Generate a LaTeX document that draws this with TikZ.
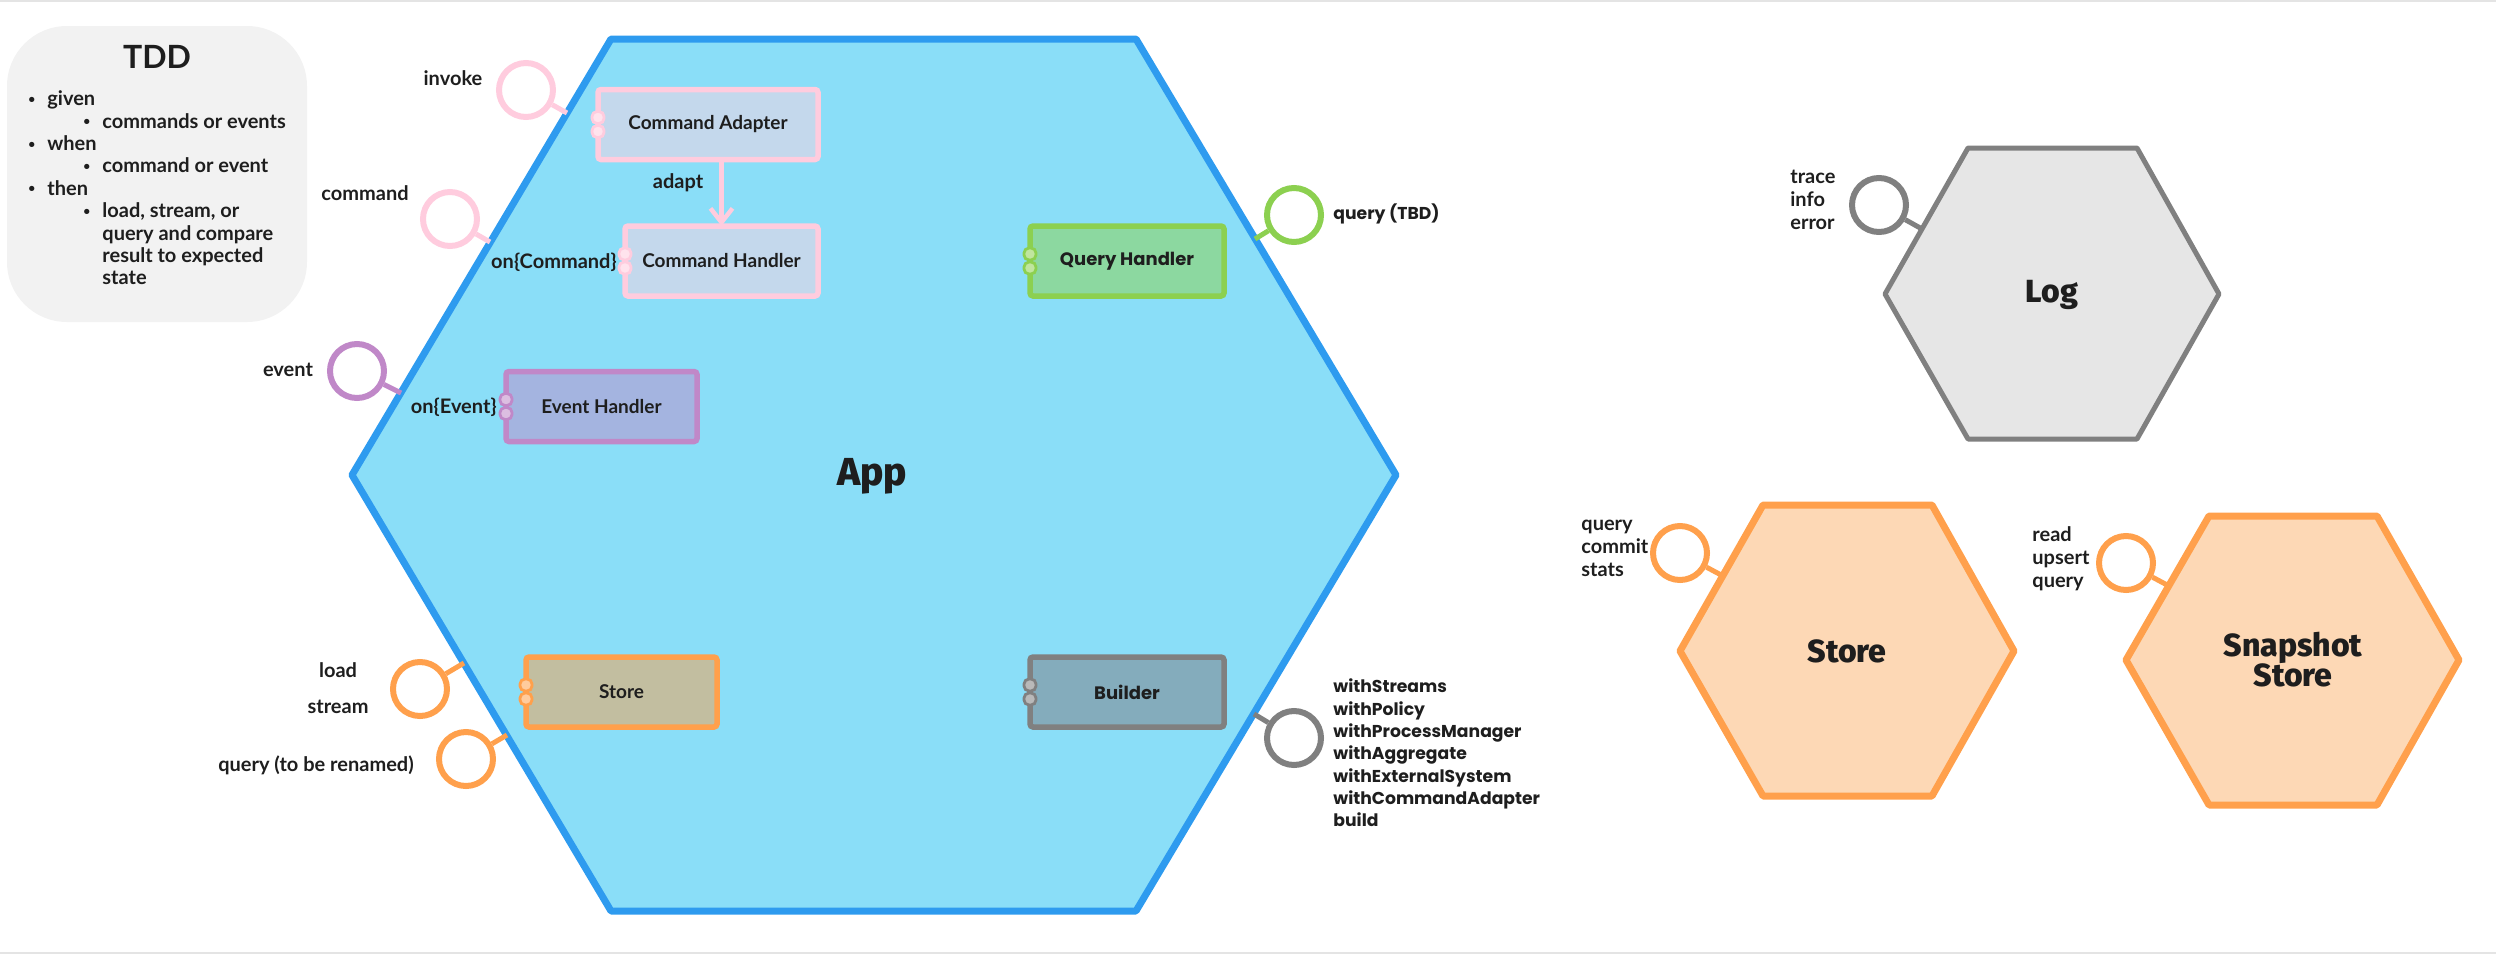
\documentclass[tikz,border=0pt]{standalone}
\usepackage{fontspec}
\setmainfont{Lato}
\newfontfamily\geofont{Poppins}
\IfFontExistsTF{Fira Sans Heavy}{\newfontfamily\heavyfont{Fira Sans Heavy}}{%
  \IfFontExistsTF{Fira Sans ExtraBold}{\newfontfamily\heavyfont{Fira Sans ExtraBold}}{%
    \IfFontExistsTF{Poppins ExtraBold}{\newfontfamily\heavyfont{Poppins ExtraBold}}{%
      \newcommand{\heavyfont}{\bfseries}}}}
\usetikzlibrary{arrows.meta}

\definecolor{ink}{HTML}{1E1E1E}
\definecolor{appfill}{HTML}{8ADEF8}
\definecolor{appline}{HTML}{2E9BEF}
\definecolor{pinkline}{HTML}{FFCCDE}
\definecolor{cafill}{HTML}{C4D8EC}
\definecolor{purpleline}{HTML}{C088C8}
\definecolor{ehfill}{HTML}{A4B4E0}
\definecolor{greenline}{HTML}{8CD050}
\definecolor{qhfill}{HTML}{8CD8A0}
\definecolor{grayline}{HTML}{808080}
\definecolor{bfill}{HTML}{84ACBC}
\definecolor{orangeline}{HTML}{FFA04C}
\definecolor{sfill}{HTML}{C2BEA0}
\definecolor{peach}{HTML}{FDD8B5}
\definecolor{logfill}{HTML}{E6E6E6}
\definecolor{tddfill}{HTML}{F2F2F2}
\definecolor{framegray}{HTML}{E4E4E4}

\newcommand{\tddbullet}{\raisebox{1.2pt}{\fontsize{6}{6}\selectfont\textbullet}}
\newcommand{\tddone}[1]{\makebox[9.5pt][l]{\tddbullet}#1}
\newcommand{\tddtwo}[1]{\hspace*{9.5pt}\makebox[27.5pt][l]{\hspace{18pt}\tddbullet}#1}
\newcommand{\tddcont}[1]{\hspace*{37pt}#1}

\begin{document}
\begin{tikzpicture}[x=0.5pt, y=-0.5pt,
    every node/.style={text=ink},
    lbl/.style={font=\fontsize{10}{11.5}\selectfont\bfseries, inner sep=0pt},
    geolabel/.style={font=\geofont\fontsize{8.6}{11.15}\selectfont\bfseries, inner sep=0pt, align=left},
    hextitle/.style={font=\heavyfont\fontsize{16}{15}\selectfont, inner sep=0pt, align=center},
    hexagon/.style={line width=3.5pt, line join=round},
    comp/.style={draw=#1, line width=2.75pt, rounded corners=1.5pt, minimum height=35pt,
      inner sep=0pt, outer sep=0pt, font=\fontsize{9.5}{11}\selectfont\bfseries},
    port/.style={draw=#1, fill=#1!55!white, line width=1.4pt, rounded corners=2.5pt,
      minimum width=6pt, minimum height=6pt, inner sep=0pt},
    lolly/.style={circle, draw=#1, fill=white, line width=3pt, minimum size=27pt, inner sep=0pt},
    stub/.style={draw=#1, line width=2.5pt},
  ]
  \useasboundingbox (0,0) rectangle (2496,954);
  \draw[framegray, line width=1pt] (0,1) -- (2496,1);
  \draw[framegray, line width=1pt] (0,953) -- (2496,953);

  % TDD
  \node[fill=tddfill, rounded corners=30pt, minimum width=150pt, minimum height=148pt, inner sep=0pt] (tdd) at (157,174) {};
  \node[font=\fontsize{16}{16}\selectfont\bfseries, inner sep=0pt] (tddtitle) at (157,57) {TDD};
  \node[font=\fontsize{10}{11.2}\selectfont\bfseries, inner sep=0pt, align=left, anchor=west] (tddlist) at (28,188)
    {\tddone{given}\\ \tddtwo{commands or events}\\ \tddone{when}\\ \tddtwo{command or event}\\
     \tddone{then}\\ \tddtwo{load, stream, or}\\ \tddcont{query and compare}\\ \tddcont{result to expected}\\ \tddcont{state}};

  % App
  \draw[hexagon, draw=appline, fill=appfill] (611,39) -- (1136,39) -- (1396,475) -- (1136,911) -- (611,911) -- (352,475) -- cycle;
  \node[hextitle, font=\heavyfont\fontsize{19.5}{19}\selectfont] (app) at (872,476) {App};

  % Command Adapter
  \node[comp=pinkline, fill=cafill, minimum width=110pt] (adapter) at (708,124.5) {Command Adapter};
  \node[port=pinkline] (adapterP1) at ([yshift=3.5pt]adapter.west) {};
  \node[port=pinkline] (adapterP2) at ([yshift=-3.5pt]adapter.west) {};

  % Command Handler
  \node[comp=pinkline, fill=cafill, minimum width=96.5pt] (handler) at (721.5,261) {Command Handler};
  \node[port=pinkline] (handlerP1) at ([yshift=3.5pt]handler.west) {};
  \node[port=pinkline] (handlerP2) at ([yshift=-3.5pt]handler.west) {};
  \node[lbl, anchor=east] (onCommand) at (617,262) {on\{Command\}};

  % Event Handler
  \node[comp=purpleline, fill=ehfill, minimum width=95.5pt] (event) at (601.5,406.5) {Event Handler};
  \node[port=purpleline] (eventP1) at ([yshift=3.5pt]event.west) {};
  \node[port=purpleline] (eventP2) at ([yshift=-3.5pt]event.west) {};
  \node[lbl, anchor=east] (onEvent) at (497,407) {on\{Event\}};

  % Query Handler
  \node[comp=greenline, fill=qhfill, minimum width=97pt, font=\geofont\fontsize{9}{11}\selectfont\bfseries] (query) at (1127,261) {Query Handler};
  \node[port=greenline] (queryP1) at ([yshift=3.5pt]query.west) {};
  \node[port=greenline] (queryP2) at ([yshift=-3.5pt]query.west) {};

  % Store
  \node[comp=orangeline, fill=sfill, minimum width=95.5pt] (store) at (621.5,692) {Store};
  \node[port=orangeline] (storeP1) at ([yshift=3.5pt]store.west) {};
  \node[port=orangeline] (storeP2) at ([yshift=-3.5pt]store.west) {};

  % Builder
  \node[comp=grayline, fill=bfill, minimum width=97pt, font=\geofont\fontsize{9}{11}\selectfont\bfseries] (builder) at (1127,692) {Builder};
  \node[port=grayline] (builderP1) at ([yshift=3.5pt]builder.west) {};
  \node[port=grayline] (builderP2) at ([yshift=-3.5pt]builder.west) {};

  % App interfaces
  \node[lolly=pinkline] (invoke) at (526,90) {};
  \coordinate (invokeE) at (567,113);
  \node[lbl] (invokeL) at (453,78) {invoke};
  \node[lolly=pinkline] (command) at (450,219) {};
  \coordinate (commandE) at (490,242);
  \node[lbl] (commandL) at (365,193) {command};
  \node[lolly=purpleline] (onevent) at (357,371) {};
  \coordinate (oneventE) at (401,393);
  \node[lbl] (eventL) at (288,370) {event};
  \node[lolly=orangeline] (load) at (420,689) {};
  \coordinate (loadE) at (464,663);
  \node[lbl] (loadL) at (338,670) {load};
  \node[lbl] (streamL) at (338,707) {stream};
  \node[lolly=orangeline] (storequery) at (466,759) {};
  \coordinate (storequeryE) at (507,735);
  \node[lbl] (storequeryL) at (316,765) {query (to be renamed)};
  \node[lolly=greenline] (tbd) at (1294,215) {};
  \coordinate (tbdE) at (1255,239);
  \node[geolabel, anchor=west] (tbdL) at (1333,214) {query (TBD)};
  \node[lolly=grayline] (build) at (1294,738) {};
  \coordinate (buildE) at (1254,714);
  \node[geolabel, anchor=west] (buildL) at (1333,753)
    {withStreams\\withPolicy\\withProcessManager\\withAggregate\\withExternalSystem\\withCommandAdapter\\build};

  % Log
  \draw[hexagon, line width=2.5pt, draw=grayline, fill=logfill] (1968,148) -- (2137,148) -- (2219,294) -- (2137,439) -- (1968,439) -- (1885,294) -- cycle;
  \node[hextitle] (log) at (2052,295) {Log};
  \node[lolly=grayline] (logapi) at (1879,205) {};
  \coordinate (logapiE) at (1922,229);
  \node[lbl, align=left, anchor=west] (logapiL) at (1790,200) {trace\\info\\error};

  % Store (external)
  \draw[hexagon, draw=orangeline, fill=peach] (1763,505) -- (1932,505) -- (2014,651) -- (1932,796) -- (1763,796) -- (1680,651) -- cycle;
  \node[hextitle] (extstore) at (1847,651) {Store};
  \node[lolly=orangeline] (storeapi) at (1680,553) {};
  \coordinate (storeapiE) at (1723,576);
  \node[lbl, align=left, anchor=west] (storeapiL) at (1581,548) {query\\commit\\stats};

  % Snapshot Store
  \draw[hexagon, draw=orangeline, fill=peach] (2209,516) -- (2377,516) -- (2459,660) -- (2377,805) -- (2209,805) -- (2126,660) -- cycle;
  \node[hextitle] (snapshot) at (2293,660) {Snapshot\\Store};
  \node[lolly=orangeline] (snapapi) at (2126,563) {};
  \coordinate (snapapiE) at (2169,586);
  \node[lbl, align=left, anchor=west] (snapapiL) at (2032,559) {read\\upsert\\query};

  % Arrows
  \draw[-{Straight Barb[length=7pt, width=11pt]}, pinkline, line width=2.25pt, line cap=round] (handler.north |- adapter.south) -- (handler.north);
  \node[lbl] (adaptL) at (678,183) {adapt};
  \draw[stub=pinkline] (invoke) -- (invokeE);
  \draw[stub=pinkline] (command) -- (commandE);
  \draw[stub=purpleline] (onevent) -- (oneventE);
  \draw[stub=orangeline] (load) -- (loadE);
  \draw[stub=orangeline] (storequery) -- (storequeryE);
  \draw[stub=greenline] (tbd) -- (tbdE);
  \draw[stub=grayline] (build) -- (buildE);
  \draw[stub=grayline] (logapi) -- (logapiE);
  \draw[stub=orangeline] (storeapi) -- (storeapiE);
  \draw[stub=orangeline] (snapapi) -- (snapapiE);
\end{tikzpicture}
\end{document}
